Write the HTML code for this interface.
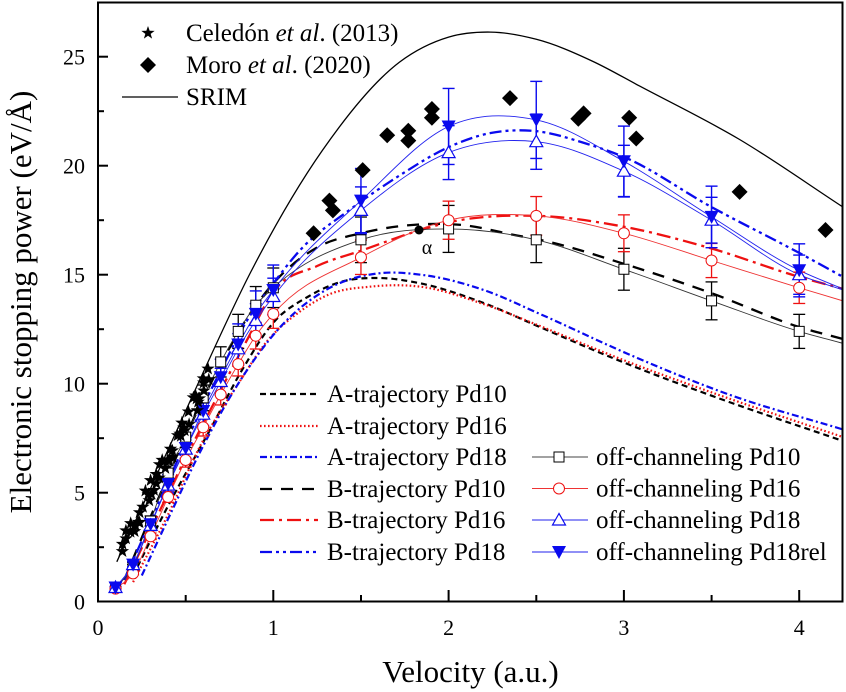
<!DOCTYPE html>
<html>
<head>
<meta charset="utf-8">
<style>
html,body{margin:0;padding:0;background:#fff;}
svg{display:block;}
svg, svg text{font-family:"Liberation Serif","Times New Roman",serif;}
</style>
</head>
<body>
<svg id="chart" width="846" height="692" viewBox="0 0 846 692" xmlns="http://www.w3.org/2000/svg" font-family="'Liberation Serif', 'Times New Roman', serif">
<defs>
<clipPath id="pc"><rect x="98" y="2.5" width="745" height="599"/></clipPath>
</defs>
<rect x="0" y="0" width="846" height="692" fill="#fff"/>
<g id="curves" clip-path="url(#pc)"></g>
<g id="marks"></g>

<!-- frame -->
<rect x="98" y="2.5" width="744.5" height="599" fill="none" stroke="#000" stroke-width="2"/>
<!-- x ticks -->
<g stroke="#000" stroke-width="2">
<line x1="98" y1="601.5" x2="98" y2="590"/>
<line x1="273.3" y1="601.5" x2="273.3" y2="590"/>
<line x1="448.6" y1="601.5" x2="448.6" y2="590"/>
<line x1="623.9" y1="601.5" x2="623.9" y2="590"/>
<line x1="799.2" y1="601.5" x2="799.2" y2="590"/>
<line x1="185.7" y1="601.5" x2="185.7" y2="595"/>
<line x1="361" y1="601.5" x2="361" y2="595"/>
<line x1="536.3" y1="601.5" x2="536.3" y2="595"/>
<line x1="711.6" y1="601.5" x2="711.6" y2="595"/>
<!-- y ticks -->
<line x1="98" y1="492.7" x2="108" y2="492.7"/>
<line x1="98" y1="383.7" x2="108" y2="383.7"/>
<line x1="98" y1="274.7" x2="108" y2="274.7"/>
<line x1="98" y1="165.7" x2="108" y2="165.7"/>
<line x1="98" y1="56.7" x2="108" y2="56.7"/>
<line x1="98" y1="547.2" x2="104" y2="547.2"/>
<line x1="98" y1="438.2" x2="104" y2="438.2"/>
<line x1="98" y1="329.2" x2="104" y2="329.2"/>
<line x1="98" y1="220.2" x2="104" y2="220.2"/>
<line x1="98" y1="111.2" x2="104" y2="111.2"/>
</g>
<!-- tick labels -->
<g font-size="22" text-anchor="middle" font-family="'Liberation Serif', 'Times New Roman', serif">
<text x="98" y="635">0</text>
<text x="273.3" y="635">1</text>
<text x="448.6" y="635">2</text>
<text x="623.9" y="635">3</text>
<text x="799.2" y="635">4</text>
</g>
<g font-size="22" text-anchor="end" font-family="'Liberation Serif', 'Times New Roman', serif">
<text x="85" y="609.5">0</text>
<text x="85" y="500.5">5</text>
<text x="85" y="391.5">10</text>
<text x="85" y="282.5">15</text>
<text x="85" y="173.5">20</text>
<text x="85" y="64.5">25</text>
</g>
<!-- axis titles -->
<text x="470.5" y="682" font-size="31" text-anchor="middle" font-family="'Liberation Serif', 'Times New Roman', serif">Velocity (a.u.)</text>
<text transform="translate(31,302) rotate(-90)" font-size="31" text-anchor="middle" font-family="'Liberation Serif', 'Times New Roman', serif">Electronic stopping power (eV/Å)</text>

<!-- top legend -->
<polygon transform="translate(148,33)" fill="#000" points="0,-7 1.65,-2.27 6.66,-2.16 2.66,0.87 4.11,5.66 0,2.8 -4.11,5.66 -2.66,0.87 -6.66,-2.16 -1.65,-2.27"/>
<g font-size="25" font-family="'Liberation Serif', 'Times New Roman', serif">
<text x="186" y="41">Celedón <tspan font-style="italic">et al</tspan>. (2013)</text>
<text x="186" y="73">Moro <tspan font-style="italic">et al</tspan>. (2020)</text>
<text x="186" y="105">SRIM</text>
</g>
<polygon fill="#000" points="148,57 156,65 148,73 140,65"/>
<line x1="122" y1="97" x2="178" y2="97" stroke="#000" stroke-width="1.3"/>

<!-- bottom legend, left column -->
<g stroke-width="2.2" fill="none">
<line x1="260" y1="394" x2="318" y2="394" stroke="#000" stroke-dasharray="6,4"/>
<line x1="260" y1="426" x2="318" y2="426" stroke="#ee1111" stroke-dasharray="1.6,2.4"/>
<line x1="260" y1="457" x2="318" y2="457" stroke="#0a0aee" stroke-dasharray="7,3,2,3"/>
<line x1="260" y1="489" x2="318" y2="489" stroke="#000" stroke-dasharray="12,9"/>
<line x1="260" y1="520" x2="318" y2="520" stroke="#ee1111" stroke-dasharray="14,5,3,5"/>
<line x1="260" y1="552" x2="318" y2="552" stroke="#0a0aee" stroke-dasharray="12,4,3,4,3,4"/>
</g>
<g font-size="25" font-family="'Liberation Serif', 'Times New Roman', serif">
<text x="327" y="402">A-trajectory Pd10</text>
<text x="327" y="434">A-trajectory Pd16</text>
<text x="327" y="465">A-trajectory Pd18</text>
<text x="327" y="497">B-trajectory Pd10</text>
<text x="327" y="528">B-trajectory Pd16</text>
<text x="327" y="560">B-trajectory Pd18</text>
</g>
<!-- bottom legend, right column -->
<g stroke-width="1">
<line x1="532" y1="457" x2="588" y2="457" stroke="#444"/>
<rect x="554" y="452" width="10" height="10" fill="#fff" stroke="#000"/>
<line x1="532" y1="488.5" x2="588" y2="488.5" stroke="#ee3333"/>
<circle cx="559" cy="488.5" r="5.5" fill="#fff" stroke="#ee1111"/>
<line x1="532" y1="520" x2="588" y2="520" stroke="#2222ee"/>
<polygon points="559,513.5 552.5,525 565.5,525" fill="#fff" stroke="#0a0aee" stroke-width="1.2"/>
<line x1="532" y1="552" x2="588" y2="552" stroke="#2222ee"/>
<polygon points="552,546 566,546 559,559" fill="#0a0aee"/>
</g>
<g font-size="25" font-family="'Liberation Serif', 'Times New Roman', serif">
<text x="596" y="465">off-channeling Pd10</text>
<text x="596" y="496.5">off-channeling Pd16</text>
<text x="596" y="528">off-channeling Pd18</text>
<text x="596" y="560">off-channeling Pd18rel</text>
</g>

<!-- alpha marker -->
<circle cx="419" cy="230" r="4.5" fill="#000"/>
<text x="427" y="254" font-size="20" text-anchor="middle" font-family="'Liberation Serif', 'Times New Roman', serif">α</text>
</svg>

<script>
(function(){
var NS="http://www.w3.org/2000/svg";
var CUR=document.getElementById("curves"), MK=document.getElementById("marks");
function X(v){return 98+175.3*v;}
function Y(s){return 601.7-21.8*s;}
function el(tag,a,parent){var e=document.createElementNS(NS,tag);for(var k in a)e.setAttribute(k,a[k]);parent.appendChild(e);return e;}
function f(n){return n.toFixed(1);}
function fpath(pts){
  var p=pts.map(function(a){return [X(a[0]),Y(a[1])];});
  var n=p.length,m=[];
  for(var i=0;i<n;i++){
    if(i==0)m.push((p[1][1]-p[0][1])/(p[1][0]-p[0][0]));
    else if(i==n-1)m.push((p[n-1][1]-p[n-2][1])/(p[n-1][0]-p[n-2][0]));
    else{
      var h0=p[i][0]-p[i-1][0],h1=p[i+1][0]-p[i][0];
      var d0=(p[i][1]-p[i-1][1])/h0,d1=(p[i+1][1]-p[i][1])/h1;
      m.push((d0*h1+d1*h0)/(h0+h1));
    }
  }
  var d="M"+f(p[0][0])+","+f(p[0][1]);
  for(var j=0;j<n-1;j++){
    var h=(p[j+1][0]-p[j][0])/3;
    d+="C"+f(p[j][0]+h)+","+f(p[j][1]+m[j]*h)+" "+f(p[j+1][0]-h)+","+f(p[j+1][1]-m[j+1]*h)+" "+f(p[j+1][0])+","+f(p[j+1][1]);
  }
  return d;
}
function curve(pts,stroke,w,dash){
  var a={d:fpath(pts),fill:"none",stroke:stroke,"stroke-width":w};
  if(dash)a["stroke-dasharray"]=dash;
  el("path",a,CUR);
}
var RED="#ee1111",BLUE="#0a0aee";

// SRIM
curve([[0.107,1.83],[0.3,5.2],[0.58,10.17],[0.87,15.1],[1.28,20.7],[1.72,24.75],[2.0,25.9],[2.24,26.13],[2.5,25.8],[2.82,24.8],[3.09,23.65],[3.66,21.2],[4.25,18.1]],"#000",1.3);

// A trajectories
curve([[0.2,1.2],[0.4,4.4],[0.64,7.9],[0.82,10.6],[1.0,12.8],[1.2,14.0],[1.4,14.7],[1.6,14.85],[1.84,14.6],[2.2,13.7],[2.52,12.6],[2.96,11.1],[3.5,9.45],[4.25,7.37]],"#000",2.2,"6,4");
curve([[0.2,0.9],[0.4,4.0],[0.58,7.1],[0.8,10.0],[0.97,12.0],[1.15,13.3],[1.32,14.1],[1.55,14.45],[1.84,14.45],[2.2,13.65],[2.52,12.65],[2.96,11.2],[3.5,9.6],[4.25,7.55]],RED,2.2,"1.6,2.4");
curve([[0.25,1.2],[0.4,3.8],[0.61,7.3],[0.8,10.0],[1.04,12.6],[1.3,14.3],[1.61,15.07],[1.84,15.0],[2.2,14.3],[2.52,13.2],[3.07,11.2],[3.6,9.5],[4.25,7.9]],BLUE,2.2,"7,3,2,3");

// B trajectories
curve([[0.15,1.0],[0.3,3.9],[0.5,7.6],[0.7,10.9],[0.85,13.0],[1.0,14.6],[1.25,16.25],[1.5,16.9],[1.82,17.3],[2.05,17.3],[2.39,16.8],[2.52,16.6],[3.0,15.5],[3.5,14.15],[4.0,12.6],[4.25,12.05]],"#000",2.3,"12,9");
curve([[0.15,0.8],[0.3,3.3],[0.5,6.6],[0.7,9.7],[0.85,12.0],[1.0,14.2],[1.25,15.4],[1.5,16.1],[1.82,17.0],[2.0,17.4],[2.5,17.7],[3.0,17.2],[3.5,16.2],[4.0,14.9],[4.25,14.35]],RED,2.3,"14,5,3,5");
curve([[0.15,1.0],[0.3,3.7],[0.5,7.3],[0.7,10.6],[0.85,12.9],[1.0,14.6],[1.15,16.1],[1.44,18.0],[1.72,19.55],[2.0,20.85],[2.24,21.5],[2.48,21.6],[2.79,21.0],[3.0,20.4],[3.5,18.1],[4.0,16.0],[4.25,14.9]],BLUE,2.3,"12,4,3,4,3,4");

// data
var lowV=[0.1,0.2,0.3,0.4,0.5,0.6,0.7,0.8,0.9,1.0,1.5,2.0,2.5,3.0,3.5,4.0];
var d10=[0.65,1.6,3.7,5.9,7.55,9.35,11.0,12.4,13.6,14.4,16.6,17.1,16.6,15.25,13.8,12.4];
var d16=[0.6,1.3,3.0,4.8,6.5,8.0,9.5,10.9,12.2,13.2,15.8,17.5,17.7,16.9,15.65,14.4];
var d18=[0.65,1.7,3.5,5.35,7.0,8.6,10.1,11.6,12.9,14.0,17.95,20.6,21.1,19.75,17.5,15.0];
var d18r=[0.65,1.7,3.55,5.4,7.05,8.75,10.3,11.8,13.2,14.3,18.4,21.8,22.1,20.2,17.65,15.2];
function pts(arr,end){var r=lowV.map(function(v,i){return [v,arr[i]];});r.push([4.25,end]);return r;}
curve(pts(d10,11.85),"#333",0.9);
curve(pts(d16,13.8),"#ee3333",0.9);
curve(pts(d18,14.3),"#2222ee",0.9);
curve(pts(d18r,14.35),"#2222ee",0.9);

function ebar(v,s,e,col,w){
  var x=X(v),y1=Y(s-e),y2=Y(s+e);
  el("line",{x1:x,y1:y1,x2:x,y2:y2,stroke:col,"stroke-width":w},MK);
  el("line",{x1:x-6,y1:y1,x2:x+6,y2:y1,stroke:col,"stroke-width":w},MK);
  el("line",{x1:x-6,y1:y2,x2:x+6,y2:y2,stroke:col,"stroke-width":w},MK);
}
lowV.forEach(function(v,i){ebar(v,d10[i],d10[i]*0.063,"#000",1.3);});
lowV.forEach(function(v,i){ebar(v,d16[i],d16[i]*0.05,RED,1.3);});
lowV.forEach(function(v,i){ebar(v,d18[i],d18[i]*0.06,BLUE,1.4);});
lowV.forEach(function(v,i){ebar(v,d18r[i],d18r[i]*0.08,BLUE,1.4);});

lowV.forEach(function(v,i){var x=X(v),y=Y(d10[i]);el("rect",{x:x-5,y:y-5,width:10,height:10,fill:"#fff",stroke:"#000","stroke-width":1},MK);});
lowV.forEach(function(v,i){var x=X(v),y=Y(d16[i]);el("circle",{cx:x,cy:y,r:5.5,fill:"#fff",stroke:RED,"stroke-width":1},MK);});
lowV.forEach(function(v,i){var x=X(v),y=Y(d18[i]);el("polygon",{points:f(x)+","+f(y-6.5)+" "+f(x-6.5)+","+f(y+5)+" "+f(x+6.5)+","+f(y+5),fill:"#fff",stroke:BLUE,"stroke-width":1.2},MK);});
lowV.forEach(function(v,i){var x=X(v),y=Y(d18r[i]);el("polygon",{points:f(x-7)+","+f(y-6)+" "+f(x+7)+","+f(y-6)+" "+f(x)+","+f(y+7),fill:BLUE},MK);});

// Moro diamonds
var dia=[[1.23,16.9],[1.32,18.4],[1.34,17.95],[1.51,19.8],[1.65,21.4],[1.77,21.6],[1.77,21.15],[1.905,22.6],[1.905,22.2],[2.35,23.1],[2.74,22.15],[2.77,22.4],[3.03,22.2],[3.07,21.25],[3.66,18.8],[4.15,17.05]];
dia.forEach(function(a){var x=X(a[0]),y=Y(a[1]);el("polygon",{points:f(x)+","+f(y-8)+" "+f(x+8)+","+f(y)+" "+f(x)+","+f(y+8)+" "+f(x-8)+","+f(y),fill:"#000"},MK);});

// Celedon stars
var seed=7;function rnd(){seed=(seed*9301+49297)%233280;return seed/233280;}
var sp="0,-7 1.6,-2.2 6.7,-2.2 2.7,0.9 4.1,5.7 0,2.8 -4.1,5.7 -2.7,0.9 -6.7,-2.2 -1.6,-2.2";
for(var k=0;k<48;k++){
  var v=0.14+0.5*k/47+(rnd()-0.5)*0.03;
  var s=15.6*v+0.4+(rnd()-0.5)*1.0;
  el("polygon",{transform:"translate("+f(X(v))+","+f(Y(s))+")",points:sp,fill:"#000"},MK);
}
})();
</script>
</body>
</html>
